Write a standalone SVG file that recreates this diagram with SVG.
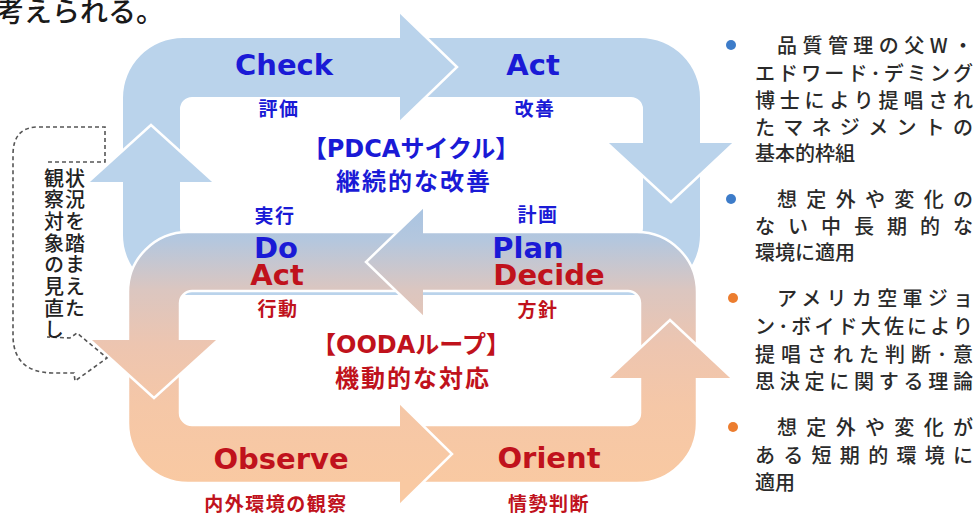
<svg xmlns="http://www.w3.org/2000/svg" width="977" height="516" viewBox="0 0 977 516">
<defs>
<linearGradient id="oodaGrad" gradientUnits="userSpaceOnUse" x1="0" y1="207" x2="0" y2="483">
<stop offset="0" stop-color="#a9c4e2"/>
<stop offset="0.12" stop-color="#b4c7de"/>
<stop offset="0.3" stop-color="#dbc6c0"/>
<stop offset="0.5" stop-color="#edc5b0"/>
<stop offset="0.72" stop-color="#f5c7a7"/>
<stop offset="1" stop-color="#f9c9a2"/>
</linearGradient>
<style>
.pdca{fill:#bad3eb}
.ooda{fill:url(#oodaGrad)}
.edge{fill:none;stroke:#fff;stroke-width:2.5;stroke-linejoin:miter}
.big{font-family:"DejaVu Sans","Noto Sans CJK JP",sans-serif;font-weight:bold;font-size:29px;text-anchor:middle}
.sub{font-family:"Noto Sans CJK JP",sans-serif;font-weight:bold;font-size:19px;letter-spacing:1.5px;text-anchor:middle}
.title{font-family:"DejaVu Sans","Noto Sans CJK JP",sans-serif;font-weight:bold;font-size:24px;text-anchor:middle}
.title2{font-family:"Noto Sans CJK JP",sans-serif;font-weight:bold;font-size:24px;letter-spacing:2px;text-anchor:middle}
.blue{fill:#1a1ad6}
.red{fill:#c0121c}
.note{font-family:"Noto Sans CJK JP",sans-serif;font-size:20px;font-weight:500;fill:#2a2a2a}
.vert{font-family:"Noto Sans CJK JP",sans-serif;font-size:20px;font-weight:500;fill:#222;writing-mode:vertical-rl;letter-spacing:1.7px}
</style>
</defs>

<text x="-4" y="22" font-family="Noto Sans CJK JP, sans-serif" font-size="28" font-weight="500" fill="#1a1a1a">考えられる。</text>

<g id="connectors">
<!-- PDCA ring -->
<path class="pdca" fill-rule="evenodd" d="M183,38 H640 A60,60 0 0 1 700,98 V235 A60,60 0 0 1 640,295 H183 A60,60 0 0 1 123,235 V98 A60,60 0 0 1 183,38 Z M192,97 H631 A12,12 0 0 1 643,109 V228 A12,12 0 0 1 631,240 H192 A12,12 0 0 1 180,228 V109 A12,12 0 0 1 192,97 Z"/>
<!-- PDCA arrow heads -->
<polygon class="pdca" points="400,12 457,67 400,122"/>
<polyline class="edge" points="400,12 457,67 400,122"/>
<polygon class="pdca" points="607,143 734,143 671,202"/>
<polyline class="edge" points="607,143 671,202 734,143"/>
<polygon class="pdca" points="88,182 214,182 151,125"/>
<polyline class="edge" points="88,182 151,125 214,182"/>
<!-- OODA ring -->
<path class="ooda" fill-rule="evenodd" stroke="#fff" stroke-width="2.5" d="M188,232 H637 A60,60 0 0 1 697,292 V423 A60,60 0 0 1 637,483 H188 A60,60 0 0 1 128,423 V292 A60,60 0 0 1 188,232 Z M192,291 H628 A12,12 0 0 1 640,303 V413 A12,12 0 0 1 628,425 H192 A12,12 0 0 1 180,413 V303 A12,12 0 0 1 192,291 Z"/>
<!-- shared Plan/Decide arrow head -->
<polygon class="ooda" points="423,207 366,262 423,317"/>
<polyline class="edge" points="423,207 366,262 423,317"/>
<!-- OODA arrow heads -->
<polygon class="ooda" points="90,340 218,340 154,398"/>
<polyline class="edge" points="90,340 154,398 218,340"/>
<polygon class="ooda" points="400,403 452,454 400,505"/>
<polyline class="edge" points="400,403 452,454 400,505"/>
<polygon class="ooda" points="608,378 732,378 670,320"/>
<polyline class="edge" points="608,378 670,320 732,378"/>
</g>

<g id="review-arrow">
<path d="M48,162 L105,162 L105,127 L38,127 Q13,127 13,155 L13,335 Q13,372 52,373 L74,373 L75,381 L107,358 L77,333 L70,338 L47,337" fill="none" stroke="#555" stroke-width="1.6" stroke-dasharray="4 3"/>
<text class="vert" x="75" y="168">状況を踏まえた</text>
<text class="vert" x="54" y="168">観察対象の見直し</text>
</g>

<g id="check">
<text class="big blue" x="284" y="75">Check</text>
<text class="sub blue" x="279" y="116">評価</text>
</g>
<g id="act-pdca">
<text class="big blue" x="533" y="75">Act</text>
<text class="sub blue" x="535" y="116">改善</text>
</g>
<g id="pdca-title">
<text class="title blue" x="411" y="157">【PDCAサイクル】</text>
<text class="title2 blue" x="414" y="190">継続的な改善</text>
</g>
<g id="do-act">
<text class="sub blue" x="275" y="223">実行</text>
<text class="big blue" x="276" y="258">Do</text>
<text class="big red" x="277" y="285">Act</text>
<text class="sub red" x="278" y="316">行動</text>
</g>
<g id="plan-decide">
<text class="sub blue" x="538" y="222">計画</text>
<text class="big blue" x="528" y="258">Plan</text>
<text class="big red" x="549" y="285">Decide</text>
<text class="sub red" x="538" y="317">方針</text>
</g>
<g id="ooda-title">
<text class="title red" x="411" y="353">【OODAループ】</text>
<text class="title2 red" x="413" y="387">機動的な対応</text>
</g>
<g id="observe">
<text class="big red" x="281" y="469">Observe</text>
<text class="sub red" x="276" y="511">内外環境の観察</text>
</g>
<g id="orient">
<text class="big red" x="549" y="468">Orient</text>
<text class="sub red" x="549" y="511">情勢判断</text>
</g>

<g id="note-pdca">
<circle cx="731" cy="45" r="5" fill="#3d7cc9"/>
<text class="note" x="777" y="53" textLength="196" lengthAdjust="spacing">品質管理の父W・</text>
<text class="note" x="755" y="81" textLength="218" lengthAdjust="spacing">エドワード･デミング</text>
<text class="note" x="755" y="108" textLength="218" lengthAdjust="spacing">博士により提唱され</text>
<text class="note" x="755" y="135" textLength="218" lengthAdjust="spacing">たマネジメントの</text>
<text class="note" x="755" y="161">基本的枠組</text>
<circle cx="731" cy="199" r="5" fill="#3d7cc9"/>
<text class="note" x="777" y="207" textLength="196" lengthAdjust="spacing">想定外や変化の</text>
<text class="note" x="755" y="234" textLength="218" lengthAdjust="spacing">ない中長期的な</text>
<text class="note" x="755" y="260">環境に適用</text>
</g>
<g id="note-ooda">
<circle cx="733" cy="298" r="5" fill="#ec7d2f"/>
<text class="note" x="777" y="306" textLength="196" lengthAdjust="spacing">アメリカ空軍ジョ</text>
<text class="note" x="755" y="334" textLength="218" lengthAdjust="spacing">ン･ボイド大佐により</text>
<text class="note" x="755" y="362" textLength="218" lengthAdjust="spacing">提唱された判断･意</text>
<text class="note" x="755" y="389" textLength="218" lengthAdjust="spacing">思決定に関する理論</text>
<circle cx="733" cy="427" r="5" fill="#ec7d2f"/>
<text class="note" x="777" y="435" textLength="196" lengthAdjust="spacing">想定外や変化が</text>
<text class="note" x="755" y="463" textLength="218" lengthAdjust="spacing">ある短期的環境に</text>
<text class="note" x="755" y="490">適用</text>
</g>
</svg>
